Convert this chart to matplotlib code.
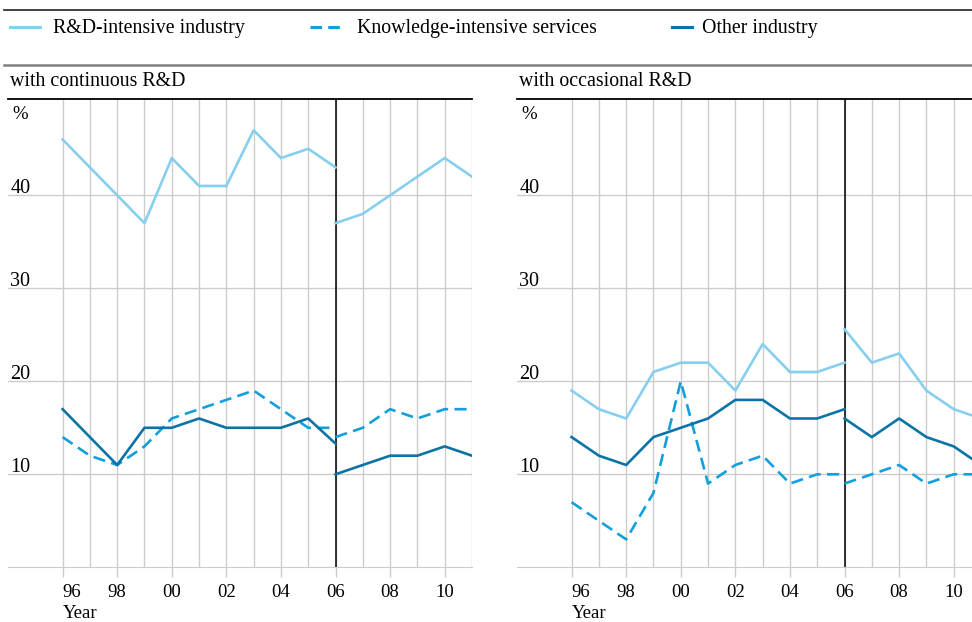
import matplotlib
matplotlib.use('Agg')
from matplotlib import pyplot as plt
from matplotlib.lines import Line2D
import numpy as np

plt.rcParams['font.family'] = ['Liberation Serif', 'DejaVu Serif']

# years before / after the 2006 break
years_a = np.arange(1996, 2007)
years_b = np.arange(2006, 2012)
xtick_years = list(range(1996, 2011, 2))
xtick_labels = ['96', '98', '00', '02', '04', '06', '08', '10']
ytick_vals = [10, 20, 30, 40]

series_names = ['R&D-intensive industry', 'Knowledge-intensive services', 'Other industry']
panel_titles = ['with continuous R&D', 'with occasional R&D']

# with continuous R&D
cont_rd_a = [46, 43, 40, 37, 44, 41, 41, 47, 44, 45, 43]
cont_rd_b = [37, 38, 40, 42, 44, 42]
cont_kis_a = [14, 12, 11, 13, 16, 17, 18, 19, 17, 15, 15]
cont_kis_b = [14, 15, 17, 16, 17, 17]
cont_oth_a = [17, 14, 11, 15, 15, 16, 15, 15, 15, 16, 13.3]
cont_oth_b = [10, 11, 12, 12, 13, 12]

# with occasional R&D
occ_rd_a = [19, 17, 16, 21, 22, 22, 19, 24, 21, 21, 22]
occ_rd_b = [25.6, 22, 23, 19, 17, 16]
occ_kis_a = [7, 5, 3, 8, 20, 9, 11, 12, 9, 10, 10]
occ_kis_b = [9, 10, 11, 9, 10, 10]
occ_oth_a = [14, 12, 11, 14, 15, 16, 18, 18, 16, 16, 17]
occ_oth_b = [16, 14, 16, 14, 13, 11]

colors = ['#86cfee', '#12a0dc', '#0b74a6']
styles = ['-', '--', '-']
lw = 1.9
dash = (4.6, 2.4)

W, H = 972, 622
fig = plt.figure(figsize=(W / 100, H / 100), dpi=100)


def fx(px):
    return px / W


def fy(py):
    return 1 - py / H


def hline(x0, x1, y, color, width):
    fig.add_artist(Line2D([fx(x0), fx(x1)], [fy(y), fy(y)], color=color, lw=width,
                          transform=fig.transFigure))


def draw_panel(left_px, title, data):
    ax = fig.add_axes([fx(left_px), fy(567.3), fx(464), (567.3 - 99) / H])
    ax.set_xlim(1994, 2011)
    ax.set_ylim(0, 50.35)
    ax.set_xticks(xtick_years)
    ax.set_xticks(range(1996, 2012), minor=True)
    ax.set_xticklabels(xtick_labels, fontsize=13.5)
    ax.get_xticklabels()[0].set_horizontalalignment('left')
    ax.tick_params(axis='x', which='major', length=7, color='#cccccc', width=1, pad=5)
    ax.tick_params(axis='x', which='minor', length=0)
    ax.set_yticks(ytick_vals)
    ax.tick_params(axis='y', length=0, labelleft=False)
    ax.grid(True, which='both', axis='x', color='#cccccc', lw=1)
    ax.grid(True, which='major', axis='y', color='#cccccc', lw=1)
    ax.set_axisbelow(True)
    for s in ['left', 'right']:
        ax.spines[s].set_visible(False)
    ax.spines['bottom'].set_color('#cccccc')
    ax.spines['top'].set_color('black')
    ax.spines['top'].set_linewidth(1.3)
    ax.axvline(2006, color='black', lw=1.1, zorder=2)

    for (ya, yb), c, ls in zip(data, colors, styles):
        for xs, ys in ((years_a, ya), (years_b, yb)):
            line, = ax.plot(xs, ys, color=c, lw=lw, ls=ls, zorder=3, clip_on=True)
            if ls == '--':
                line.set_dashes(dash)

    for v in ytick_vals:
        ax.text(1994.08, v - 0.25, str(v), fontsize=14.5, va='bottom', ha='left')
    ax.text(1994.15, 48.7, '%', fontsize=13.5, va='center', ha='left')
    ax.text(1996, -4.0, 'Year', fontsize=13.5, va='top', ha='left')
    fig.text(fx(left_px + 2), fy(82), title, fontsize=14.3, va='center', ha='left')
    return ax


draw_panel(8, panel_titles[0],
           [(cont_rd_a, cont_rd_b), (cont_kis_a, cont_kis_b), (cont_oth_a, cont_oth_b)])
draw_panel(517, panel_titles[1],
           [(occ_rd_a, occ_rd_b), (occ_kis_a, occ_kis_b), (occ_oth_a, occ_oth_b)])

# header rules
hline(4, 972, 9.5, '#222222', 1.2)
hline(4, 972, 65, '#808080', 1.8)

# legend drawn by hand
legend_x = [(10, 40, 53), (310, 340, 357), (672, 692, 702)]
for (x0, x1, tx), name, c, ls in zip(legend_x, series_names, colors, styles):
    ln = Line2D([fx(x0), fx(x1)], [fy(27), fy(27)], color=c, lw=2.2, ls=ls,
                transform=fig.transFigure)
    if ls == '--':
        ln.set_dashes((3.8, 2.0))
    fig.add_artist(ln)
    fig.text(fx(tx), fy(29), name, fontsize=14.3, va='center', ha='left')

fig.savefig('out.png', dpi=100)
